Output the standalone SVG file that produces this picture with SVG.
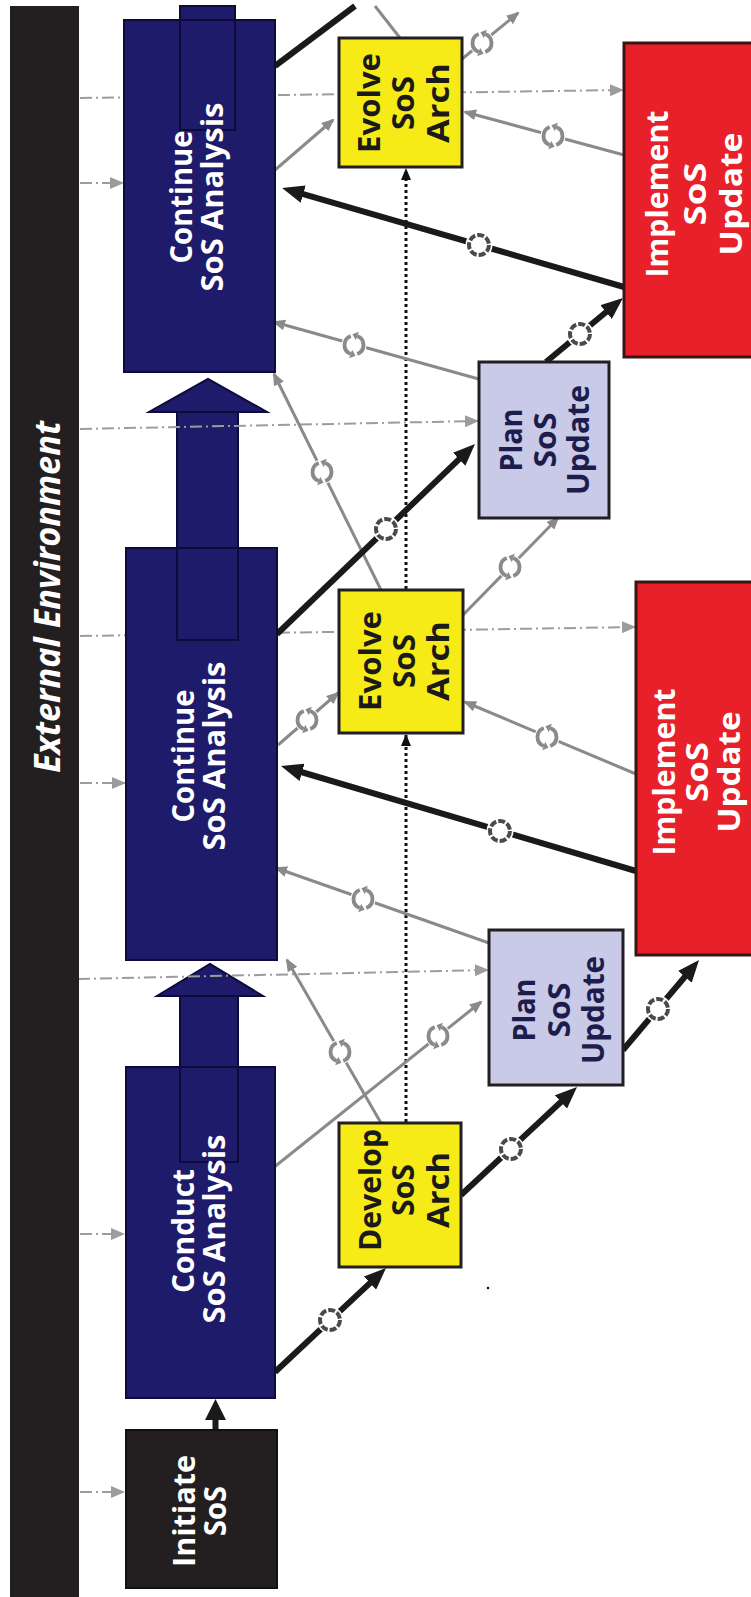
<svg xmlns="http://www.w3.org/2000/svg" width="751" height="1597" viewBox="0 0 751 1597">
<style>
.navy{fill:#1e1b6a;stroke:#0d0b3a;stroke-width:2}
.blkbox{fill:#231f20;stroke:#111;stroke-width:2}
.yel{fill:#f6eb16;stroke:#231f20;stroke-width:3}
.red{fill:#e8202a;stroke:#3b1414;stroke-width:3}
.lav{fill:#c9c9e8;stroke:#231f20;stroke-width:3}
.col{fill:#1e1b6a;stroke:#0d0b3a;stroke-width:2}
.colo{fill:none;stroke:#0d0b3a;stroke-width:2}
.t{font-family:"Open Sans","Liberation Sans",Arial,sans-serif;font-weight:bold;text-anchor:middle}
.tw{fill:#ffffff;font-size:31px}
.ty{fill:#1a1a1a;font-size:30px}
.tl{fill:#1d1d4d;font-size:30px}
.tr{fill:#ffffff;font-size:31px}
.dd{fill:none;stroke:#9c9c9c;stroke-width:2;stroke-dasharray:12 4 2 4}
.dot{fill:none;stroke:#111;stroke-width:3;stroke-dasharray:3 3}
.gry{fill:none;stroke:#8a8a8a;stroke-width:3}
.blk{fill:none;stroke:#1a1a1a;stroke-width:6}
</style>
<defs>
<marker id="mBlk" markerUnits="userSpaceOnUse" viewBox="0 0 22 18" markerWidth="22" markerHeight="18" refX="8" refY="9" orient="auto"><path d="M0,0 L22,9 L0,18 z" fill="#1a1a1a"/></marker>
<marker id="mGry" markerUnits="userSpaceOnUse" viewBox="0 0 13 11" markerWidth="13" markerHeight="11" refX="11" refY="5.5" orient="auto"><path d="M0,0 L13,5.5 L0,11 z" fill="#8a8a8a"/></marker>
<marker id="mDd" markerUnits="userSpaceOnUse" viewBox="0 0 14 12" markerWidth="14" markerHeight="12" refX="13" refY="6" orient="auto"><path d="M0,0 L14,6 L0,12 z" fill="#9c9c9c"/></marker>
<marker id="mDot" markerUnits="userSpaceOnUse" viewBox="0 0 12 10" markerWidth="12" markerHeight="10" refX="11" refY="5" orient="auto"><path d="M0,0 L12,5 L0,10 z" fill="#111"/></marker>
<g id="ring"><circle r="13.5" fill="#fff"/><circle r="10" fill="#fff" stroke="#4a4a4a" stroke-width="4" stroke-dasharray="7 2"/></g>
<g id="cyc"><circle r="12.5" fill="#fff"/><g transform="scale(1.2)"><path d="M-2.7,-7.5 A8,8 0 0 0 -2.7,7.5" fill="none" stroke="#8a8a8a" stroke-width="3.2"/><path d="M2.7,7.5 A8,8 0 0 0 2.7,-7.5" fill="none" stroke="#8a8a8a" stroke-width="3.2"/><polygon points="1.3,9 -1.5,4 -4,11" fill="#8a8a8a"/><polygon points="-1.3,-9 4,-11 1.5,-4" fill="#8a8a8a"/></g></g>
</defs>
<rect width="751" height="1597" fill="#ffffff"/>

<g id="connectors">
<g id="flow-arrows">
<rect class="col" x="180" y="6" width="55" height="124"/>
<rect class="col" x="177" y="411" width="61" height="229"/>
<polygon class="col" points="149,412 267,412 208,379"/>
<rect class="col" x="180" y="995" width="58" height="167"/>
<polygon class="col" points="157,996 263,996 210,964"/>
</g>
<g id="external-inputs">
<path class="dd" d="M80,1492 H124" marker-end="url(#mDd)"/>
<path class="dd" d="M80,1234 H124" marker-end="url(#mDd)"/>
<path class="dd" d="M80,783 H125" marker-end="url(#mDd)"/>
<path class="dd" d="M80,183 H123" marker-end="url(#mDd)"/>
<path class="dd" d="M78,979 L488,970" marker-end="url(#mDd)"/>
<path class="dd" d="M80,429 L478,421" marker-end="url(#mDd)"/>
<path class="dd" d="M80,636 L635,627" marker-end="url(#mDd)"/>
<path class="dd" d="M80,98 L623,90" marker-end="url(#mDd)"/>
</g>
<g id="architecture-flow">
<path class="dot" d="M406,1122 V735" marker-end="url(#mDot)"/>
<path class="dot" d="M406,589 V169" marker-end="url(#mDot)"/>
</g>
<g id="feedback">
<path class="gry" d="M381,1123 L287,960" marker-end="url(#mGry)"/>
<path class="gry" d="M273,1168 L481,1002" marker-end="url(#mGry)"/>
<path class="gry" d="M489,943 L276,868" marker-end="url(#mGry)"/>
<path class="gry" d="M636,774 L465,702" marker-end="url(#mGry)"/>
<path class="gry" d="M278,745 L338,693" marker-end="url(#mGry)"/>
<path class="gry" d="M463,615 L558,518" marker-end="url(#mGry)"/>
<path class="gry" d="M381,590 L274,374" marker-end="url(#mGry)"/>
<path class="gry" d="M493,383 L274,322" marker-end="url(#mGry)"/>
<path class="gry" d="M275,170 L333,120" marker-end="url(#mGry)"/>
<path class="gry" d="M624,155 L465,112" marker-end="url(#mGry)"/>
<path class="gry" d="M462,59 L518,13" marker-end="url(#mGry)"/>
<path class="gry" d="M400,38 L375,6"/>
<use href="#cyc" x="340" y="1052"/>
<use href="#cyc" x="438" y="1036"/>
<use href="#cyc" x="363" y="899"/>
<use href="#cyc" x="547" y="737"/>
<use href="#cyc" x="307" y="720"/>
<use href="#cyc" x="510" y="567"/>
<use href="#cyc" x="322" y="472"/>
<use href="#cyc" x="354" y="345"/>
<use href="#cyc" x="553" y="136"/>
<use href="#cyc" x="482" y="43"/>
</g>
<g id="main-flow">
<path class="blk" d="M215.5,1432 V1416"/>
<polygon points="205,1420 226,1420 215.5,1399" fill="#1a1a1a"/>
<path class="blk" d="M275,1372 L375.8,1277.6" marker-end="url(#mBlk)"/>
<path class="blk" d="M461,1195 L566.8,1096.5" marker-end="url(#mBlk)"/>
<path class="blk" d="M623,1050 L690,970.7" marker-end="url(#mBlk)"/>
<path class="blk" d="M636,871 L294.4,770" marker-end="url(#mBlk)"/>
<path class="blk" d="M277,634 L464.9,453.7" marker-end="url(#mBlk)"/>
<path class="blk" d="M546,362 L612.2,307" marker-end="url(#mBlk)"/>
<path class="blk" d="M624,287 L295.5,191.9" marker-end="url(#mBlk)"/>
<path class="blk" d="M275,66 L355,6"/>
<use href="#ring" x="330" y="1320"/>
<use href="#ring" x="511" y="1149"/>
<use href="#ring" x="658" y="1009"/>
<use href="#ring" x="500" y="831"/>
<use href="#ring" x="386" y="529"/>
<use href="#ring" x="580" y="334"/>
<use href="#ring" x="479" y="245"/>
</g>
</g>

<g id="external-environment">
<rect x="10" y="6" width="69" height="1591" fill="#231f20"/>
<text class="t" transform="translate(60,597) rotate(-90)" fill="#fff" font-size="35" font-style="italic" textLength="352" lengthAdjust="spacingAndGlyphs">External Environment</text>
</g>

<g id="initiate-sos">
<rect class="blkbox" x="126" y="1430" width="151" height="158"/>
<text class="t tw" transform="translate(195,1511) rotate(-90)" textLength="112" lengthAdjust="spacingAndGlyphs">Initiate</text>
<text class="t tw" transform="translate(226,1511) rotate(-90)" textLength="50" lengthAdjust="spacingAndGlyphs">SoS</text>
</g>

<g id="conduct-sos-analysis">
<rect class="navy" x="126" y="1067" width="149" height="331"/>
<path class="colo" d="M180,1068 V1162 H238 V1068"/>
<text class="t tw" transform="translate(194,1231) rotate(-90)" textLength="124" lengthAdjust="spacingAndGlyphs">Conduct</text>
<text class="t tw" transform="translate(225,1229) rotate(-90)" textLength="189" lengthAdjust="spacingAndGlyphs">SoS Analysis</text>
</g>

<g id="continue-sos-analysis-1">
<rect class="navy" x="126" y="548" width="151" height="412"/>
<path class="colo" d="M177,549 V640 H238 V549"/>
<text class="t tw" transform="translate(194,756) rotate(-90)" textLength="133" lengthAdjust="spacingAndGlyphs">Continue</text>
<text class="t tw" transform="translate(225,756) rotate(-90)" textLength="189" lengthAdjust="spacingAndGlyphs">SoS Analysis</text>
</g>

<g id="continue-sos-analysis-2">
<rect class="navy" x="124" y="20" width="151" height="352"/>
<path class="colo" d="M180,21 V130 H235 V21"/>
<text class="t tw" transform="translate(192,197) rotate(-90)" textLength="133" lengthAdjust="spacingAndGlyphs">Continue</text>
<text class="t tw" transform="translate(223,197) rotate(-90)" textLength="189" lengthAdjust="spacingAndGlyphs">SoS Analysis</text>
</g>

<g id="develop-sos-arch">
<rect class="yel" x="339" y="1123" width="122" height="144"/>
<text class="t ty" transform="translate(381,1190) rotate(-90)" textLength="122" lengthAdjust="spacingAndGlyphs">Develop</text>
<text class="t ty" transform="translate(414,1190) rotate(-90)" textLength="52" lengthAdjust="spacingAndGlyphs">SoS</text>
<text class="t ty" transform="translate(449,1190) rotate(-90)" textLength="76" lengthAdjust="spacingAndGlyphs">Arch</text>
</g>

<g id="evolve-sos-arch-1">
<rect class="yel" x="339" y="590" width="124" height="143"/>
<text class="t ty" transform="translate(381,661) rotate(-90)" textLength="100" lengthAdjust="spacingAndGlyphs">Evolve</text>
<text class="t ty" transform="translate(415,661) rotate(-90)" textLength="54" lengthAdjust="spacingAndGlyphs">SoS</text>
<text class="t ty" transform="translate(449,661) rotate(-90)" textLength="80" lengthAdjust="spacingAndGlyphs">Arch</text>
</g>

<g id="evolve-sos-arch-2">
<rect class="yel" x="339" y="38" width="123" height="129"/>
<text class="t ty" transform="translate(380,103) rotate(-90)" textLength="100" lengthAdjust="spacingAndGlyphs">Evolve</text>
<text class="t ty" transform="translate(414,103) rotate(-90)" textLength="54" lengthAdjust="spacingAndGlyphs">SoS</text>
<text class="t ty" transform="translate(449,103) rotate(-90)" textLength="80" lengthAdjust="spacingAndGlyphs">Arch</text>
</g>

<g id="plan-sos-update-1">
<rect class="lav" x="489" y="930" width="134" height="155"/>
<text class="t tl" transform="translate(535,1010) rotate(-90)" textLength="63" lengthAdjust="spacingAndGlyphs">Plan</text>
<text class="t tl" transform="translate(570,1010) rotate(-90)" textLength="55" lengthAdjust="spacingAndGlyphs">SoS</text>
<text class="t tl" transform="translate(604,1010) rotate(-90)" textLength="108" lengthAdjust="spacingAndGlyphs">Update</text>
</g>

<g id="plan-sos-update-2">
<rect class="lav" x="479" y="362" width="130" height="156"/>
<text class="t tl" transform="translate(522,440) rotate(-90)" textLength="63" lengthAdjust="spacingAndGlyphs">Plan</text>
<text class="t tl" transform="translate(556,440) rotate(-90)" textLength="55" lengthAdjust="spacingAndGlyphs">SoS</text>
<text class="t tl" transform="translate(589,440) rotate(-90)" textLength="110" lengthAdjust="spacingAndGlyphs">Update</text>
</g>

<g id="implement-sos-update-1">
<rect class="red" x="636" y="582" width="118" height="373"/>
<text class="t tr" transform="translate(675,772) rotate(-90)" textLength="167" lengthAdjust="spacingAndGlyphs">Implement</text>
<text class="t tr" transform="translate(708,772) rotate(-90)" textLength="60" lengthAdjust="spacingAndGlyphs">SoS</text>
<text class="t tr" transform="translate(740,772) rotate(-90)" textLength="121" lengthAdjust="spacingAndGlyphs">Update</text>
</g>

<g id="implement-sos-update-2">
<rect class="red" x="624" y="43" width="130" height="314"/>
<text class="t tr" transform="translate(668,194) rotate(-90)" textLength="167" lengthAdjust="spacingAndGlyphs">Implement</text>
<text class="t tr" transform="translate(706,194) rotate(-90)" textLength="63" lengthAdjust="spacingAndGlyphs">SoS</text>
<text class="t tr" transform="translate(742,194) rotate(-90)" textLength="123" lengthAdjust="spacingAndGlyphs">Update</text>
</g>

<circle cx="488" cy="1288" r="1.3" fill="#111"/>
</svg>
